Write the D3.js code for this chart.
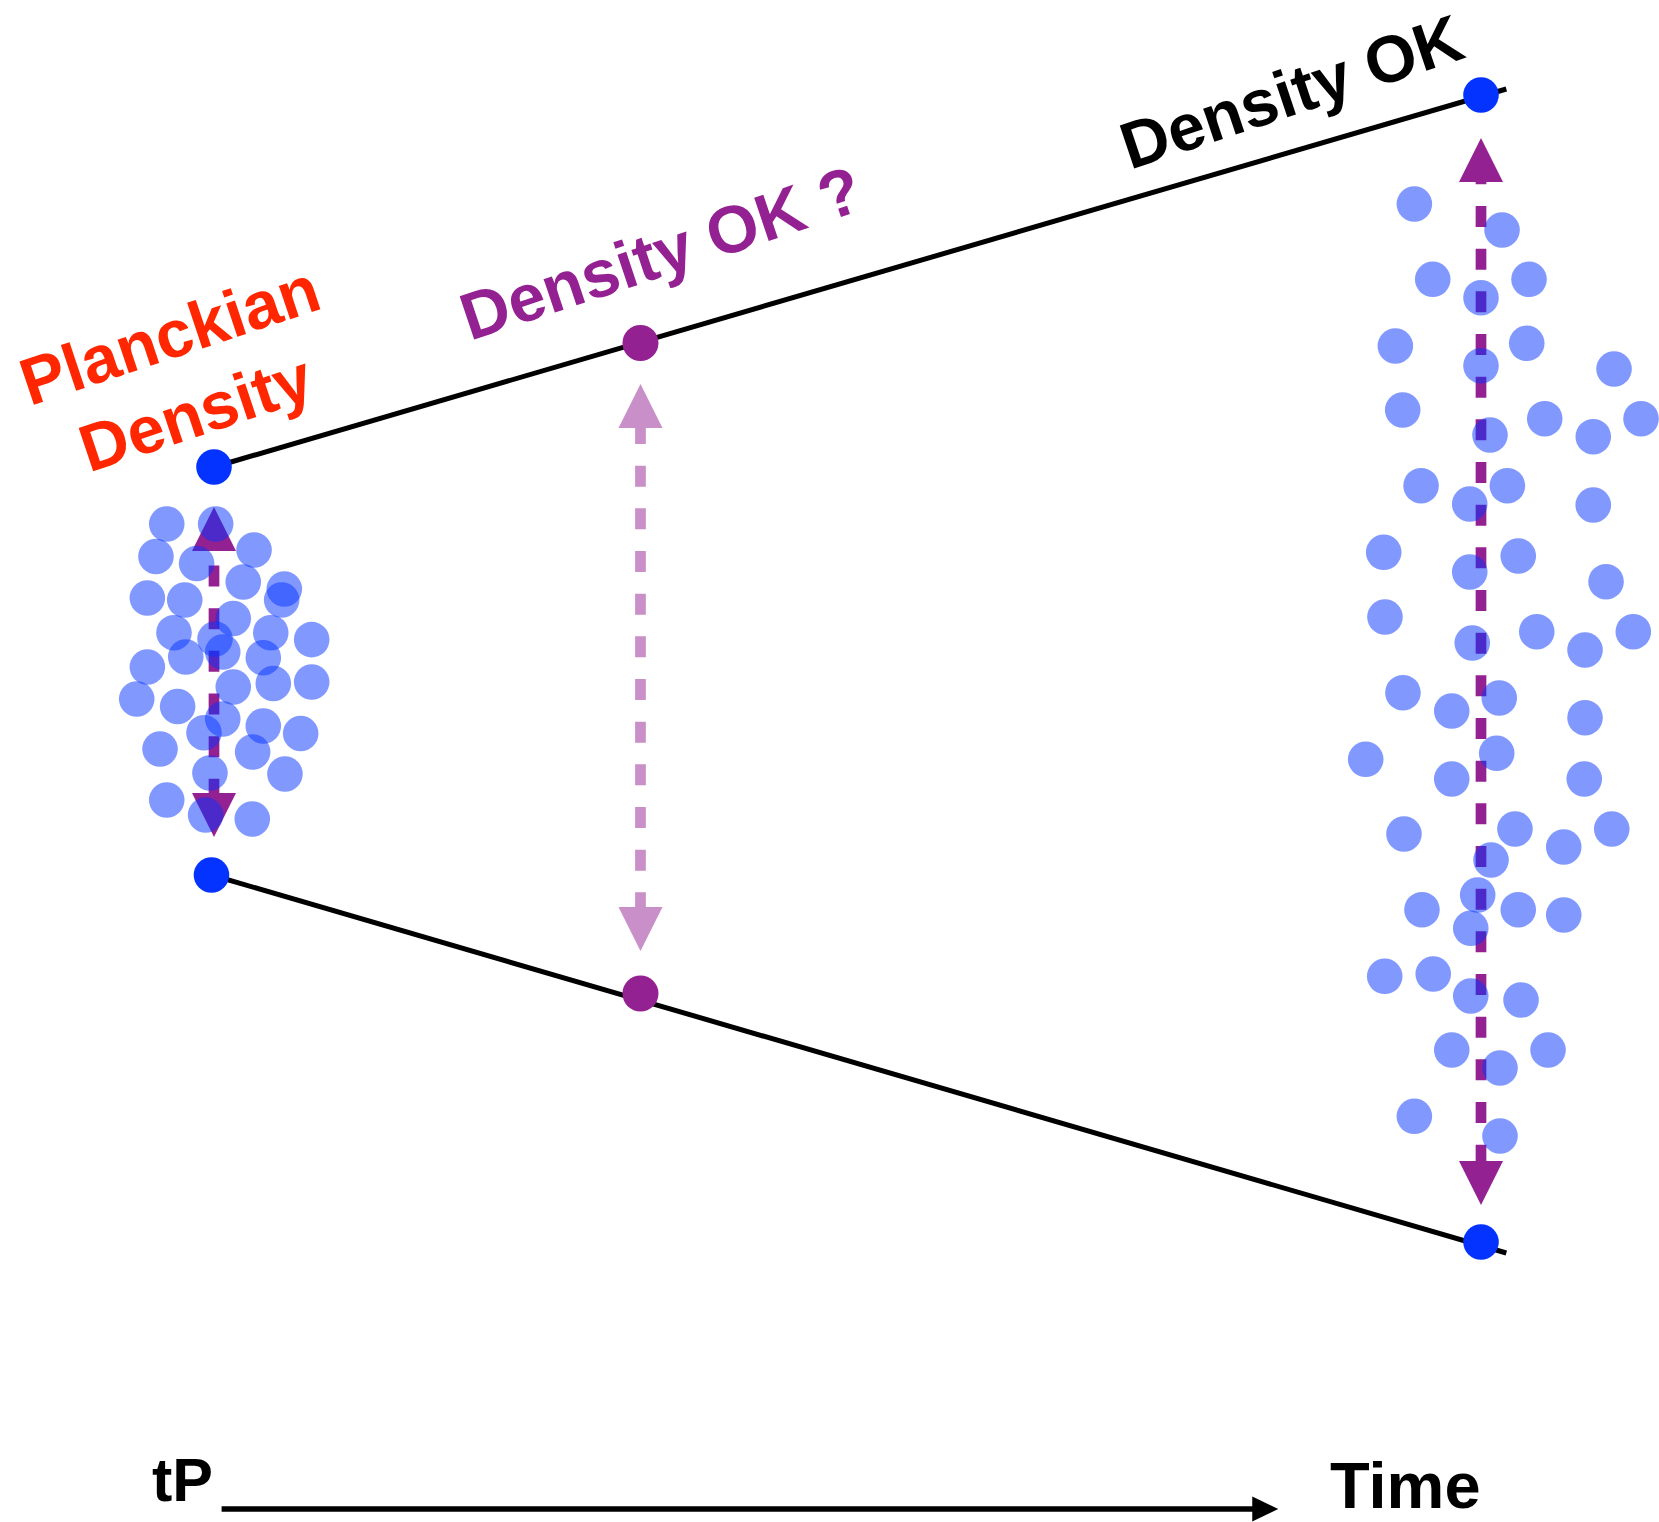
<!DOCTYPE html>
<html>
<head>
<meta charset="utf-8">
<script src="https://cdn.jsdelivr.net/npm/d3@7"></script>
<style>
  html, body { margin: 0; padding: 0; background: #fff; }
  svg { display: block; font-family: "Liberation Sans", Arial, Helvetica, sans-serif; font-weight: bold; }
</style>
</head>
<body>
<div id="chart"></div>
<script>
// time runs 0 (tP) -> 1 (late), spread is the vertical extent around the centre
var upperEdge = [[0, 2.03], [1.02, 5.81]];
var lowerEdge = [[-0.002, -2.05], [1.02, -5.83]];

var edgeDots  = [[0, 2.03], [-0.002, -2.05], [1, 5.75], [1, -5.72]];
var probeDots = [[0.3366, 3.27], [0.3366, -3.235]];

// double headed arrows: time, top tip, bottom tip
var arrowTime = [0, 0.3366, 1];
var arrowTop  = [1.63, 2.86, 5.32];
var arrowBot  = [-1.67, -2.81, -5.35];

var leftCloud = [
  [-0.0373, 1.46], [0.0013, 1.46], [-0.0458, 1.135], [-0.0137, 1.065], [0.0316, 1.20],
  [0.0231, 0.88], [0.0555, 0.81], [0.0534, 0.70], [-0.0526, 0.72], [-0.0231, 0.70],
  [0.0152, 0.515], [-0.0316, 0.373], [0.0008, 0.31], [0.0448, 0.373], [0.0771, 0.304],
  [0.0069, 0.18], [-0.0223, 0.13], [0.0389, 0.123], [-0.0526, 0.03], [0.0152, -0.17],
  [0.0468, -0.135], [0.0771, -0.12], [-0.0610, -0.29], [-0.0287, -0.365], [0.0069, -0.49],
  [-0.0079, -0.627], [0.0389, -0.56], [0.0684, -0.635], [0.0305, -0.82], [-0.0426, -0.79],
  [-0.0032, -1.03], [0.0560, -1.04], [-0.0373, -1.30], [-0.0066, -1.45], [0.0302, -1.49]
];

var rightCloud = [
  [0.9474, 4.66], [1.0166, 4.40], [0.9619, 3.907], [1.0379, 3.907], [1.0000, 3.723],
  [0.9324, 3.24], [1.0361, 3.267], [1.0000, 3.043], [1.1050, 3.01], [0.9382, 2.60],
  [1.0503, 2.513], [1.0886, 2.333], [1.1263, 2.513], [1.0071, 2.35],
  [0.9527, 1.843], [1.0208, 1.843], [0.9911, 1.66], [1.0886, 1.65], [0.9232, 1.177],
  [1.0294, 1.14], [0.9911, 0.98], [1.0987, 0.883], [0.9242, 0.53], [0.9931, 0.27],
  [1.0440, 0.383], [1.0821, 0.20], [1.1202, 0.383],
  [0.9384, -0.227], [0.9769, -0.41], [1.0144, -0.28], [1.0821, -0.477], [0.9090, -0.893],
  [1.0124, -0.833], [0.9769, -1.09], [1.0815, -1.09],
  [0.9392, -1.64], [1.0268, -1.59], [1.0653, -1.77], [1.1032, -1.59], [1.0079, -1.90],
  [0.9974, -2.25], [0.9534, -2.397], [1.0294, -2.397], [1.0653, -2.45], [0.9919, -2.583],
  [0.9240, -3.063], [0.9623, -3.04], [0.9919, -3.26], [1.0316, -3.30],
  [0.9769, -3.80], [1.0529, -3.80], [1.0150, -3.98], [0.9474, -4.463], [1.0150, -4.66]
];

var timeAxis = [0.006, 0.84];

var W = 1659, H = 1522;
var BLUE = '#0433ff', PURPLE = '#942192', RED = '#ff2600';

var x = d3.scaleLinear().domain([0, 1]).range([214, 1481]);
var y = d3.scaleLinear().domain([-6, 6]).range([1270, 70]);

var svg = d3.select('#chart').append('svg')
  .attr('width', W).attr('height', H)
  .attr('viewBox', '0 0 ' + W + ' ' + H);

svg.append('rect').attr('width', W).attr('height', H).style('fill', '#fff');

// time axis at the bottom
var axisY = 1509, axisHead = 26;
svg.append('line')
  .attr('x1', x(timeAxis[0])).attr('y1', axisY)
  .attr('x2', x(timeAxis[1]) - axisHead + 2).attr('y2', axisY)
  .style('stroke', '#000').style('stroke-width', 5.5);
svg.append('path')
  .attr('d', 'M' + x(timeAxis[1]) + ',' + axisY +
             'L' + (x(timeAxis[1]) - axisHead) + ',' + (axisY - 12.5) +
             'L' + (x(timeAxis[1]) - axisHead) + ',' + (axisY + 12.5) + 'Z')
  .style('fill', '#000');

svg.append('text').attr('x', 152).attr('y', 1501)
  .style('font-size', '61px').style('fill', '#000').text('tP');
svg.append('text').attr('x', 1330).attr('y', 1508)
  .style('font-size', '65px').style('fill', '#000').text('Time');

// envelope lines
var line = d3.line().x(function(d){return x(d[0]);}).y(function(d){return y(d[1]);});
svg.selectAll('.edge')
  .data([upperEdge, lowerEdge])
  .enter()
  .append('path')
  .classed('edge', true)
  .attr('d', line)
  .style('fill', 'none').style('stroke', '#000').style('stroke-width', 5);

// dashed double arrows
var headLen = 44, headHalf = 22;
var arrowOpacity = [1, 0.5, 1];
var dashPhase = [28.2, 5, 18.7];
arrowTime.forEach(function(t, i) {
  var cx = x(t), yt = y(arrowTop[i]), yb = y(arrowBot[i]);
  var g = svg.append('g').style('opacity', arrowOpacity[i]);
  g.append('line')
    .attr('x1', cx).attr('y1', yt + headLen)
    .attr('x2', cx).attr('y2', yb - headLen)
    .style('stroke', PURPLE).style('stroke-width', 10.7)
    .style('stroke-dasharray', '21, 21.67').style('stroke-dashoffset', dashPhase[i]);
  g.append('path')
    .attr('d', 'M' + cx + ',' + yt + 'L' + (cx + headHalf) + ',' + (yt + headLen) +
               'L' + (cx - headHalf) + ',' + (yt + headLen) + 'Z')
    .style('fill', PURPLE);
  g.append('path')
    .attr('d', 'M' + cx + ',' + yb + 'L' + (cx + headHalf) + ',' + (yb - headLen) +
               'L' + (cx - headHalf) + ',' + (yb - headLen) + 'Z')
    .style('fill', PURPLE);
});

// particle clouds
svg.selectAll('.cloud')
  .data(leftCloud.concat(rightCloud))
  .enter()
  .append('circle')
  .classed('cloud', true)
  .attr('cx', function(d){return x(d[0]);})
  .attr('cy', function(d){return y(d[1]);})
  .attr('r', 17.8)
  .style('fill', BLUE).style('fill-opacity', 0.5);

// end and probe points
svg.selectAll('.edgeDot')
  .data(edgeDots)
  .enter()
  .append('circle')
  .classed('edgeDot', true)
  .attr('cx', function(d){return x(d[0]);})
  .attr('cy', function(d){return y(d[1]);})
  .attr('r', 17.8)
  .style('fill', BLUE);

svg.selectAll('.probeDot')
  .data(probeDots)
  .enter()
  .append('circle')
  .classed('probeDot', true)
  .attr('cx', function(d){return x(d[0]);})
  .attr('cy', function(d){return y(d[1]);})
  .attr('r', 18)
  .style('fill', PURPLE);

// labels
var red = svg.append('text')
  .attr('transform', 'translate(177,357) rotate(-18.5)')
  .style('font-size', '66.5px').style('fill', RED).style('text-anchor', 'middle');
red.append('tspan').attr('x', 0).attr('y', 0).text('Planckian');
red.append('tspan').attr('x', 0).attr('y', 82).text('Density');

svg.append('text')
  .attr('transform', 'translate(470,341) rotate(-18.5)')
  .style('font-size', '66.5px').style('fill', PURPLE)
  .text('Density OK ?');

svg.append('text')
  .attr('transform', 'translate(1130,170) rotate(-18.5)')
  .style('font-size', '66px').style('fill', '#000')
  .text('Density OK');
</script>
</body>
</html>
